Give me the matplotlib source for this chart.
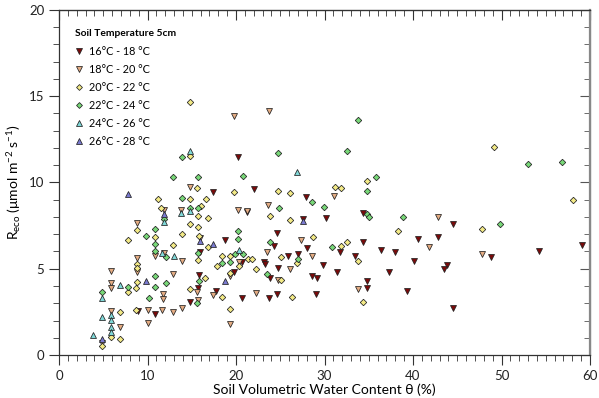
import numpy as np
import matplotlib
matplotlib.use("Agg")
import matplotlib.pyplot as plt
from matplotlib.ticker import MultipleLocator
from matplotlib.lines import Line2D

plt.rcParams['font.family'] = ['Lato', 'DejaVu Sans']
plt.rcParams['mathtext.fontset'] = 'custom'
plt.rcParams['mathtext.rm'] = 'Lato'
plt.rcParams['mathtext.it'] = 'Lato:italic'

# soil temperature classes (5 cm)
labels = ["16\u00b0C - 18 \u00b0C", "18\u00b0C - 20 \u00b0C", "20\u00b0C - 22 \u00b0C",
          "22\u00b0C - 24 \u00b0C", "24\u00b0C - 26 \u00b0C", "26\u00b0C - 28 \u00b0C"]

# 16-18 C
t16_x = [20.19, 17.44, 18.76, 15.93, 15.85, 15.74, 17.74, 14.80, 8.89, 10.85, 19.76, 20.71, 20.73,
         22.03, 24.67, 24.29, 23.16, 23.28, 23.84, 23.76, 24.78, 24.67, 25.82, 26.95, 27.91, 27.60,
         27.99, 28.64, 29.19, 29.04, 29.83, 30.17, 31.45, 31.75, 33.45, 34.38, 34.38, 34.84, 34.80,
         36.35, 37.31, 37.97, 39.36, 40.15, 40.62, 42.86, 44.49, 43.81, 43.50, 44.49, 48.81, 54.24,
         59.13, 21.25]
t16_y = [11.50, 9.47, 6.64, 5.99, 4.64, 3.87, 3.73, 3.06, 2.55, 2.36, 4.79, 5.37, 3.33,
         9.62, 7.06, 6.32, 5.42, 5.26, 4.49, 3.29, 5.06, 3.54, 5.76, 5.84, 9.14, 7.88,
         6.20, 4.58, 4.49, 3.52, 5.23, 7.92, 4.83, 5.99, 5.76, 8.26, 6.57, 4.29, 3.91,
         6.09, 4.83, 5.99, 3.71, 5.43, 6.75, 6.86, 7.59, 5.20, 4.97, 2.74, 5.66, 6.05,
         6.38, 8.30]

# 18-20 C
t18_x = [19.77, 23.76, 14.80, 13.79, 11.81, 20.26, 21.21, 23.65, 31.11, 8.85, 8.85, 8.85, 5.84,
         5.84, 5.84, 5.84, 6.89, 4.89, 10.09, 11.60, 12.85, 10.09, 10.85, 11.86, 12.85, 11.79,
         11.79, 13.86, 13.86, 15.63, 15.74, 17.44, 19.32, 19.32, 20.34, 22.23, 23.54, 24.78,
         26.10, 27.34, 28.62, 33.75, 41.77, 42.86, 47.83, 15.88]
t18_y = [13.86, 14.16, 9.72, 8.41, 8.38, 8.41, 8.35, 8.67, 9.19, 7.63, 5.61, 4.83, 4.85,
         4.16, 3.86, 2.58, 1.61, 0.71, 2.61, 2.61, 2.48, 1.87, 5.74, 5.90, 4.70, 3.54,
         3.23, 5.43, 2.72, 3.67, 3.21, 3.45, 4.58, 1.78, 5.37, 3.57, 5.95, 4.35,
         4.99, 6.64, 5.74, 3.83, 6.26, 8.02, 5.86, 6.78]

# 20-22 C
t20_x = [14.80, 14.80, 15.63, 19.77, 11.13, 14.80, 16.61, 11.53, 15.99, 15.65, 16.80, 14.80, 15.65,
         8.85, 10.85, 7.83, 13.86, 12.92, 16.80, 15.82, 15.65, 18.42, 19.32, 17.82, 20.34, 21.30,
         21.86, 22.23, 19.32, 16.50, 14.80, 18.38, 19.32, 8.85, 8.85, 8.85, 7.83, 8.67, 6.89,
         8.70, 5.84, 6.89, 4.86, 24.78, 26.10, 26.10, 23.84, 28.67, 31.19, 31.83, 34.77, 32.51,
         31.83, 25.08, 26.86, 25.08, 26.29, 33.82, 34.38, 38.34, 49.15, 47.83, 58.05]
t20_y = [14.68, 11.54, 9.66, 9.42, 9.07, 9.07, 9.07, 8.52, 8.62, 8.06, 7.95, 7.57, 7.42,
         7.25, 6.82, 6.65, 7.00, 6.39, 6.26, 6.87, 5.51, 5.74, 5.74, 5.18, 5.16, 5.59,
         5.55, 5.00, 4.78, 4.46, 3.81, 3.38, 2.65, 5.28, 5.03, 4.26, 3.67, 3.87, 2.48,
         2.61, 1.06, 0.94, 0.52, 9.52, 9.37, 7.83, 8.08, 6.86, 9.76, 9.66, 10.09, 6.57,
         6.34, 5.66, 5.32, 4.35, 3.36, 5.45, 3.07, 7.19, 12.08, 7.30, 8.99]

# 22-24 C
t22_x = [13.86, 12.92, 15.65, 13.86, 14.80, 15.65, 11.81, 10.85, 9.83, 10.85, 10.85, 12.09, 12.06,
         10.85, 10.85, 7.83, 10.20, 4.89, 15.67, 18.42, 19.32, 19.89, 20.82, 20.19, 20.28, 15.82,
         15.54, 20.82, 24.78, 24.89, 23.84, 23.47, 27.04, 28.64, 29.89, 30.81, 32.51, 33.73,
         35.82, 34.77, 34.77, 35.06, 38.90, 49.83, 52.96, 56.80]
t22_y = [11.48, 10.30, 10.29, 9.08, 8.50, 8.50, 7.86, 7.30, 6.92, 6.43, 6.00, 5.66, 4.16,
         4.58, 3.96, 3.96, 3.29, 3.68, 5.93, 5.35, 5.41, 5.86, 5.84, 7.19, 6.71, 4.31,
         3.00, 10.39, 11.73, 8.50, 6.57, 4.68, 5.57, 8.87, 8.60, 6.28, 11.84, 13.62,
         10.34, 9.51, 8.16, 7.98, 8.02, 7.58, 11.06, 11.21]

# 24-26 C
t24_x = [14.80, 26.86, 13.79, 14.80, 11.81, 11.60, 12.99, 6.89, 4.89, 4.89, 5.84, 5.84, 5.84,
         5.84, 3.88, 20.34]
t24_y = [11.83, 10.61, 8.21, 8.35, 7.71, 5.90, 5.71, 4.03, 3.29, 2.20, 2.32, 2.03, 1.61,
         1.35, 1.16, 6.09]

# 26-28 C
t26_x = [7.83, 11.81, 9.83, 17.37, 15.88, 18.76, 27.60, 4.86]
t26_y = [9.33, 8.17, 4.29, 6.42, 6.61, 4.29, 7.77, 0.93]

series = [(t16_x, t16_y), (t18_x, t18_y), (t20_x, t20_y),
          (t22_x, t22_y), (t24_x, t24_y), (t26_x, t26_y)]
colors = ['#7a0a0a', '#e3ab82', '#f3ea86', '#78d878', '#7fd8d8', '#7a7ad0']
markers = ['v', 'v', 'D', 'D', '^', '^']
sizes = [4.3, 4.3, 3.3, 3.3, 4.3, 4.3]

fig = plt.figure(figsize=(5.99, 3.98), dpi=100)
ax = fig.add_axes([0.0985, 0.108, 0.8865, 0.867])

for i in range(len(series)):
    ax.plot(series[i][0], series[i][1], linestyle='none', marker=markers[i],
            markersize=sizes[i], markerfacecolor=colors[i], markeredgecolor='#222222',
            markeredgewidth=0.55)

ax.set_xlim(0, 60)
ax.set_ylim(0, 20)
ax.xaxis.set_major_locator(MultipleLocator(10))
ax.xaxis.set_minor_locator(MultipleLocator(1))
ax.yaxis.set_major_locator(MultipleLocator(5))
ax.yaxis.set_minor_locator(MultipleLocator(1))
ax.tick_params(which='both', direction='out', colors='#333333', labelcolor='#222222', labelsize=9.5)
ax.tick_params(which='major', length=7, width=0.8)
ax.tick_params(which='minor', length=4, width=0.6)
for s in ax.spines.values():
    s.set_color('#333333')
    s.set_linewidth(0.9)
ax.spines['right'].set_color('#888888')
ax.spines['right'].set_linewidth(1.6)

# mirrored ticks pointing in on top and right
secx = ax.secondary_xaxis('top')
secx.xaxis.set_major_locator(MultipleLocator(10))
secx.xaxis.set_minor_locator(MultipleLocator(1))
secx.tick_params(which='both', direction='in', labeltop=False, colors='#333333')
secx.tick_params(which='major', length=7, width=0.8)
secx.tick_params(which='minor', length=4, width=0.6)
secy = ax.secondary_yaxis('right')
secy.yaxis.set_major_locator(MultipleLocator(5))
secy.yaxis.set_minor_locator(MultipleLocator(1))
secy.tick_params(which='both', direction='in', labelright=False, colors='#555555')
secy.tick_params(which='major', length=7, width=0.8)
secy.tick_params(which='minor', length=4, width=0.6)

ax.set_xlabel("Soil Volumetric Water Content \u03b8 (%)", fontsize=10, labelpad=1)
ax.set_ylabel("R$_{\\mathrm{eco}}$ (\u03bcmol m$^{-2}$ s$^{-1}$)", fontsize=10, labelpad=4)

handles = []
for i in range(len(series)):
    handles.append(Line2D([], [], linestyle='none', marker=markers[i], markersize=sizes[i] - 0.3,
                          markerfacecolor=colors[i], markeredgecolor='#222222', markeredgewidth=0.55))
leg = ax.legend(handles, labels, title="Soil Temperature 5cm", loc='upper left',
                bbox_to_anchor=(0.011, 0.972), frameon=False, fontsize=7.8,
                title_fontproperties={'size': 7.4, 'weight': 'bold'},
                handlelength=0.8, handletextpad=0.55, labelspacing=0.66, alignment='left')

fig.savefig("out.png", dpi=100)
